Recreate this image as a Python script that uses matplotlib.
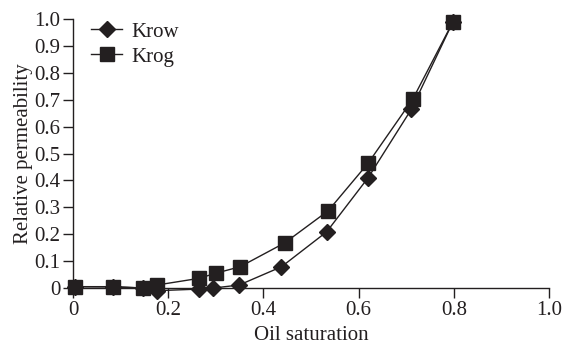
import matplotlib
matplotlib.use("Agg")
import matplotlib.pyplot as plt

plt.rcParams['font.family'] = ['Liberation Serif', 'DejaVu Serif']

so_krow = [0.004, 0.085, 0.148, 0.176, 0.265, 0.295, 0.349, 0.438, 0.533, 0.620, 0.711, 0.798]
krow = [0.005, 0.004, 0.0, -0.01, -0.004, 0.0, 0.011, 0.079, 0.209, 0.410, 0.665, 0.989]
so_krog = [0.004, 0.085, 0.148, 0.176, 0.265, 0.300, 0.351, 0.445, 0.536, 0.620, 0.714, 0.798]
krog = [0.005, 0.005, 0.0, 0.011, 0.036, 0.055, 0.079, 0.168, 0.287, 0.464, 0.703, 0.989]

xticks = [0, 0.2, 0.4, 0.6, 0.8, 1.0]
xticklabels = ["0", "0.2", "0.4", "0.6", "0.8", "1.0"]
yticks = [0, 0.1, 0.2, 0.3, 0.4, 0.5, 0.6, 0.7, 0.8, 0.9, 1.0]
yticklabels = ["0", "0.1", "0.2", "0.3", "0.4", "0.5", "0.6", "0.7", "0.8", "0.9", "1.0"]

col = "#231f20"
fs = 15
fig = plt.figure(figsize=(5.64, 3.47), dpi=100)
ax = fig.add_axes([0.1294, 0.170, 0.844, 0.775])
ax.plot(so_krow, krow, color=col, lw=1.0, marker='D', ms=8, label='Krow', clip_on=False)
ax.plot(so_krog, krog, color=col, lw=1.0, marker='s', ms=9.5, label='Krog', clip_on=False)

ax.set_xlim(0, 1.0)
ax.set_ylim(0, 1.0)
ax.set_xticks(xticks)
ax.set_xticklabels(xticklabels)
ax.set_yticks(yticks)
ax.set_yticklabels(yticklabels)
for s in ['top', 'right']:
    ax.spines[s].set_visible(False)
for s in ['left', 'bottom']:
    ax.spines[s].set_color(col)
    ax.spines[s].set_linewidth(1.0)
ax.tick_params(axis='both', direction='out', length=7, width=1.0, colors=col,
               labelsize=fs, labelcolor=col, pad=2)
ax.set_xlabel("Oil saturation", fontsize=fs, color=col, labelpad=5)
ax.set_ylabel("Relative permeability", fontsize=fs, color=col, labelpad=1)

leg = ax.legend(loc='upper left', bbox_to_anchor=(0.012, 1.035), frameon=False,
                fontsize=fs, handlelength=1.5, handletextpad=0.45,
                labelspacing=0.25, borderaxespad=0.2)
for t in leg.get_texts():
    t.set_color(col)

fig.savefig("out.png", dpi=100)
